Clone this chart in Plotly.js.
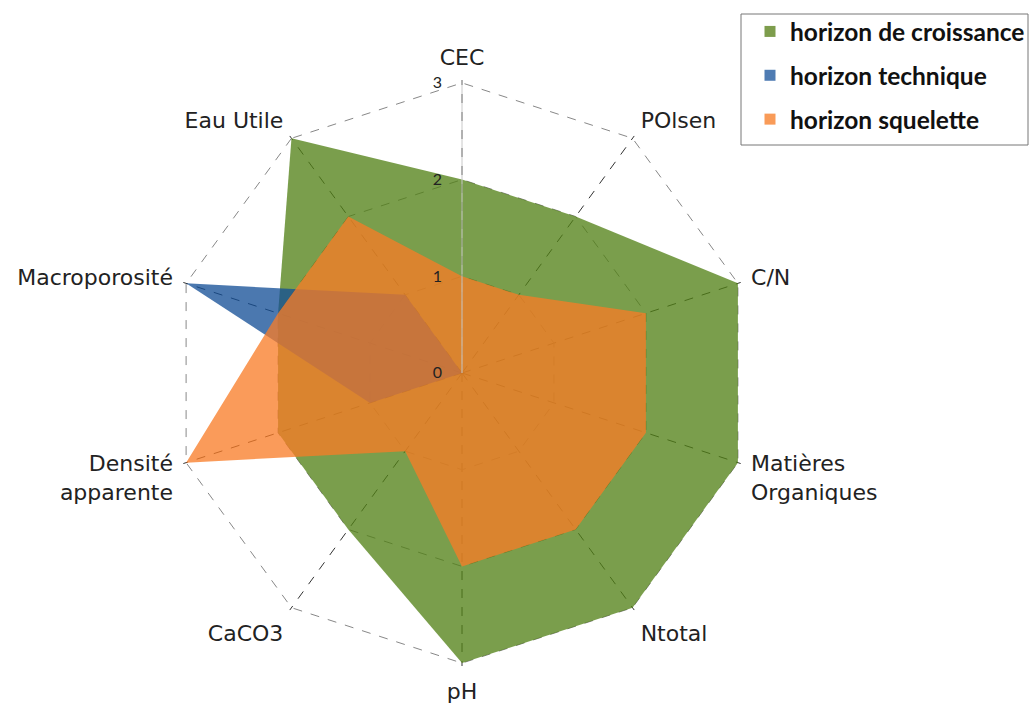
<!DOCTYPE html>
<html>
<head>
<meta charset="utf-8">
<script src="https://cdn.plot.ly/plotly-3.0.1.min.js"></script>
<style>html,body{margin:0;padding:0;background:#fff;}#chart{width:1030px;height:708px;}</style>
</head>
<body>
<div id="chart"></div>
<script>
const categories = ['CEC', 'POlsen', 'C/N', 'Matières<br>Organiques', 'Ntotal', 'pH', 'CaCO3', 'Densité<br>apparente', 'Macroporosité', 'Eau Utile'];
const seriesNames = ['horizon de croissance', 'horizon technique', 'horizon squelette'];
const croissance = [2, 2, 3, 3, 3, 3, 2, 2, 2, 3];
const technique  = [0, 0, 0, 0, 0, 0, 0, 1, 3, 1];
const squelette  = [1, 1, 2, 2, 2, 2, 1, 3, 2, 2];
const radialTicks = [0, 1, 2, 3];

const fills = ['rgba(80,128,20,0.76)', 'rgba(18,78,150,0.76)', 'rgba(249,124,38,0.76)'];
const swatch = ['#7d9d4c', '#4f7cb3', '#f99b58'];
const values = [croissance, technique, squelette];

const traces = [];
values.forEach((v, i) => {
  traces.push({
    type: 'scatterpolar', r: v, theta: categories, fill: 'toself',
    fillcolor: fills[i], mode: 'lines', line: {width: 0, color: fills[i]},
    name: seriesNames[i], showlegend: false, hoverinfo: 'skip'
  });
});
seriesNames.forEach((n, i) => {
  traces.push({
    type: 'scatterpolar', r: [null], theta: [null], mode: 'markers', name: n,
    legendgroup: 'g' + i, showlegend: true,
    marker: {symbol: 'square', size: 11, color: swatch[i]}
  });
});

const layout = {
  width: 1030, height: 708,
  margin: {l: 0, r: 0, t: 0, b: 0},
  paper_bgcolor: '#fff',
  font: {family: '"DejaVu Sans", sans-serif', color: '#222'},
  showlegend: true,
  legend: {
    x: 750/1030, y: 1 - 9/708, xanchor: 'left', yanchor: 'top',
    borderwidth: 0, bgcolor: 'rgba(0,0,0,0)',
    font: {family: 'Lato, sans-serif', size: 24.5, color: '#111', weight: 'bold'},
    traceorder: 'grouped', tracegroupgap: 9, itemwidth: 30
  },
  shapes: [{
    type: 'rect', xref: 'paper', yref: 'paper',
    x0: 741/1030, x1: 1028/1030, y0: 1 - 145/708, y1: 1 - 14/708,
    line: {color: '#777', width: 1}, fillcolor: 'rgba(0,0,0,0)'
  }],
  polar: {
    domain: {x: [169/1030, 755/1030], y: [42/708, 628/708]},
    gridshape: 'linear',
    bgcolor: 'rgba(0,0,0,0)',
    angularaxis: {
      direction: 'clockwise', rotation: 90, type: 'category',
      showline: false, ticks: 'outside', ticklen: 6, tickcolor: 'rgba(0,0,0,0)',
      gridcolor: '#333', griddash: 'dash', gridwidth: 1,
      tickfont: {size: 22, color: '#222', family: '"DejaVu Sans", sans-serif'}
    },
    radialaxis: {
      range: [0, 3.03], tickvals: radialTicks, angle: 90,
      showline: true, linecolor: '#c8c8c8', linewidth: 1,
      gridcolor: '#888', griddash: 'dash', gridwidth: 1,
      ticks: 'outside', ticklen: 14, tickcolor: 'rgba(0,0,0,0)',
      layer: 'above traces', side: 'counterclockwise',
      tickangle: 90,
      tickfont: {size: 16, color: '#222', family: 'Lato, sans-serif'}
    }
  }
};

Plotly.newPlot('chart', traces, layout, {displayModeBar: false, staticPlot: true});
</script>
</body>
</html>
